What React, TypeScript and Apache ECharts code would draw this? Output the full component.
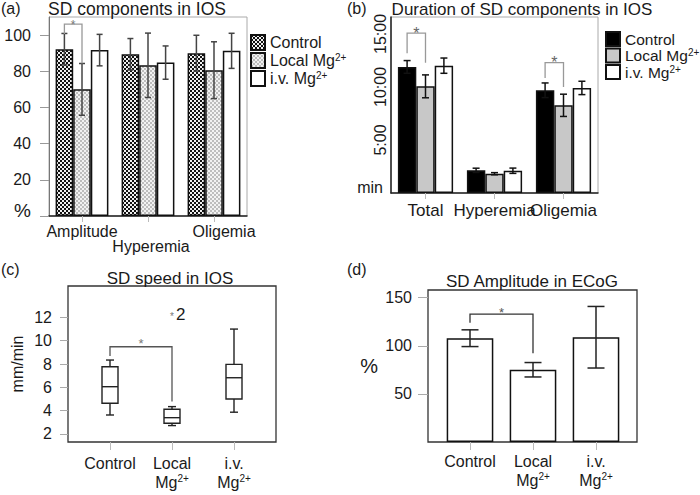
import React, { useEffect, useRef } from 'react';
import * as echarts from 'echarts';

// ---------- data ----------
const componentCats = ['Amplitude', 'Hyperemia', 'Oligemia'];
const compControl = [92.2, 89.4, 90.0];
const compControlErr = [8.7, 8.7, 9.9];
const compLocal = [70.0, 83.3, 80.6];
const compLocalErr = [14.3, 17.8, 15.7];
const compIv = [91.7, 84.8, 91.3];
const compIvErr = [8.7, 9.2, 9.7];
const compTicks = [0, 20, 40, 60, 80, 100];

const durationCats = ['Total', 'Hyperemia', 'Oligemia'];
const durControl = [11.89, 2.14, 9.69]; // minutes
const durControlErr = [0.6, 0.2, 0.69];
const durLocal = [10.06, 1.82, 8.27];
const durLocalErr = [1.08, 0.1, 1.05];
const durIv = [12.01, 2.1, 9.91];
const durIvErr = [0.72, 0.25, 0.63];
const durTicks = [0, 5, 10, 15];

const groupNames = ['Control', 'Local Mg2+', 'i.v. Mg2+'];

// boxplot: [min, Q1, median, Q3, max]
const speedBoxes = [
  [3.62, 4.63, 6.05, 7.77, 8.34],
  [2.71, 2.91, 3.39, 4.11, 4.34],
  [3.86, 5.0, 6.82, 7.97, 11.0],
];
const speedOutlier = [1, 12.25];
const speedTicks = [2, 4, 6, 8, 10, 12];

const ecogAmp = [107.9, 75.1, 108.9];
const ecogErr = [8.7, 7.5, 32.0];
const ecogTicks = [50, 100, 150];

// significance brackets: [cat1, bar1, cat2, bar2, yTop, yLeftEnd, yRightEnd]
const compBracket = [[0, 0, 0, 1, 106.1, 100.6, 84.3]];
const durBrackets = [
  [0, 0, 0, 1, 15.07, 13.18, 12.29],
  [2, 0, 2, 1, 12.29, 10.85, 10.0],
];
const speedBracket = [[0, 0, 1, 0, 9.48, 8.68, 4.77]];
const ecogBracket = [[0, 0, 1, 0, 133, 124, 92.3]];

// ---------- style ----------
const FONT = '"Liberation Sans", Arial, Helvetica, sans-serif';
const TXT = '#1a1a1a';

function checker(a: string, b: string, s: number) {
  const c = document.createElement('canvas');
  c.width = s * 2;
  c.height = s * 2;
  const g = c.getContext('2d')!;
  g.fillStyle = b;
  g.fillRect(0, 0, s * 2, s * 2);
  g.fillStyle = a;
  g.fillRect(0, 0, s, s);
  g.fillRect(s, s, s, s);
  return c;
}

function errSeries(xi: number, yi: number, means: number[], errs: number[], k: number, n: number, gap: number, capW: number, color: string) {
  return {
    type: 'custom',
    xAxisIndex: xi,
    yAxisIndex: yi,
    z: 6,
    silent: true,
    encode: { x: 0, y: [1, 2] },
    data: means.map((m, i) => [i, m - errs[i], m + errs[i]]),
    renderItem: (_p: any, api: any) => {
      const c = api.value(0);
      const lo = api.coord([c, api.value(1)]);
      const hi = api.coord([c, api.value(2)]);
      const band = api.size([1, 0])[0];
      const bw = (band * (1 - gap)) / n;
      const x = lo[0] + (k - (n - 1) / 2) * bw;
      const st = { stroke: color, lineWidth: 1.5, fill: null };
      return {
        type: 'group',
        children: [
          { type: 'line', shape: { x1: x, y1: lo[1], x2: x, y2: hi[1] }, style: st },
          { type: 'line', shape: { x1: x - capW / 2, y1: lo[1], x2: x + capW / 2, y2: lo[1] }, style: st },
          { type: 'line', shape: { x1: x - capW / 2, y1: hi[1], x2: x + capW / 2, y2: hi[1] }, style: st },
        ],
      };
    },
  };
}

function bracketSeries(xi: number, yi: number, items: number[][], n: number, gap: number, color: string, starColor: string, starSize: number, starDy: number) {
  return {
    type: 'custom',
    xAxisIndex: xi,
    yAxisIndex: yi,
    z: 7,
    silent: true,
    encode: { x: 0, y: 4 },
    data: items,
    renderItem: (_p: any, api: any) => {
      const band = api.size([1, 0])[0];
      const bw = n > 1 ? (band * (1 - gap)) / n : 0;
      const x1 = api.coord([api.value(0), api.value(4)])[0] + (api.value(1) - (n - 1) / 2) * bw;
      const x2 = api.coord([api.value(2), api.value(4)])[0] + (api.value(3) - (n - 1) / 2) * bw;
      const yTop = api.coord([api.value(0), api.value(4)])[1];
      const yL = api.coord([api.value(0), api.value(5)])[1];
      const yR = api.coord([api.value(0), api.value(6)])[1];
      return {
        type: 'group',
        children: [
          {
            type: 'polyline',
            shape: { points: [[x1, yL], [x1, yTop], [x2, yTop], [x2, yR]] },
            style: { stroke: color, lineWidth: 1.3, fill: null },
          },
          {
            type: 'text',
            x: (x1 + x2) / 2,
            y: yTop - starDy,
            style: { text: '*', fill: starColor, fontSize: starSize, fontFamily: FONT, align: 'center', verticalAlign: 'middle' },
          },
        ],
      };
    },
  };
}

function boxSeries(xi: number, yi: number, boxes: number[][], boxW: number, capW: number) {
  return {
    type: 'custom',
    xAxisIndex: xi,
    yAxisIndex: yi,
    z: 5,
    silent: true,
    encode: { x: 0, y: [1, 5] },
    data: boxes.map((b, i) => [i, ...b]),
    renderItem: (_p: any, api: any) => {
      const c = api.value(0);
      const p = [1, 2, 3, 4, 5].map((d) => api.coord([c, api.value(d)]));
      const x = p[0][0];
      const st = { stroke: '#222', lineWidth: 1.4, fill: null };
      return {
        type: 'group',
        children: [
          { type: 'line', shape: { x1: x, y1: p[0][1], x2: x, y2: p[1][1] }, style: st },
          { type: 'line', shape: { x1: x, y1: p[3][1], x2: x, y2: p[4][1] }, style: st },
          { type: 'line', shape: { x1: x - capW / 2, y1: p[0][1], x2: x + capW / 2, y2: p[0][1] }, style: st },
          { type: 'line', shape: { x1: x - capW / 2, y1: p[4][1], x2: x + capW / 2, y2: p[4][1] }, style: st },
          { type: 'rect', shape: { x: x - boxW / 2, y: p[3][1], width: boxW, height: p[1][1] - p[3][1] }, style: { stroke: '#222', lineWidth: 1.4, fill: '#fff' } },
          { type: 'line', shape: { x1: x - boxW / 2, y1: p[2][1], x2: x + boxW / 2, y2: p[2][1] }, style: st },
        ],
      };
    },
  };
}

const supRich = {
  n: { fontSize: 16, fontFamily: FONT, color: TXT, lineHeight: 19 },
  sup: { fontSize: 10, fontFamily: FONT, color: TXT, lineHeight: 10, verticalAlign: 'top' },
};

function twoLineCat(v: string) {
  if (v === 'Control') return '{n|Control}';
  const first = v.split(' ')[0];
  return `{n|${first}}\n{n|Mg}{sup|2+}`;
}

function legendFmt(name: string) {
  return name.endsWith('Mg2+') ? name.replace('Mg2+', 'Mg{sup|2+}') : name;
}

const gtext = (text: string, x: number, y: number, size: number, align = 'left') => ({
  type: 'text',
  x,
  y,
  silent: true,
  style: { text, fill: TXT, fontSize: size, fontFamily: FONT, align, verticalAlign: 'middle' },
});

export default function App() {
  const ref = useRef<HTMLDivElement>(null);
  useEffect(() => {
    document.body.style.margin = '0';
    const chart = echarts.init(ref.current!, null, { renderer: 'svg' });
    const ctrlPat = { image: checker('#111111', '#f0f0f0', 2), repeat: 'repeat' };
    const localPat = { image: checker('#bdbdbd', '#f2f2f2', 2), repeat: 'repeat' };

    const catLabel = { fontSize: 16, fontFamily: FONT, color: TXT };
    const grayTick = (len: number) => ({ show: true, length: len, alignWithLabel: true, lineStyle: { color: '#bbb' } });
    const legendText = (size: number) => ({
      fontSize: size,
      fontFamily: FONT,
      color: TXT,
      rich: { sup: { fontSize: 10, fontFamily: FONT, color: TXT, verticalAlign: 'top', lineHeight: 10 } },
    });
    const compRich = {
      c0: { fontSize: 16, fontFamily: FONT, color: TXT, lineHeight: 15 },
      c1: { fontSize: 16, fontFamily: FONT, color: TXT, lineHeight: 15, padding: [0, 0, 0, 6] },
      c2: { fontSize: 16, fontFamily: FONT, color: TXT, lineHeight: 15, padding: [0, 0, 0, 20] },
    };

    const option: any = {
      animation: false,
      backgroundColor: '#fff',
      textStyle: { fontFamily: FONT },
      grid: [
        { left: 49, top: 17, width: 198, height: 199, show: true, borderColor: '#aaa', borderWidth: 1 },
        { left: 391, top: 17, width: 207, height: 176, show: true, borderColor: '#aaa', borderWidth: 1 },
        { left: 68, top: 286, width: 208, height: 156, show: true, borderColor: '#333', borderWidth: 1.3 },
        { left: 79, top: 286, width: 186, height: 156 },
        { left: 428, top: 290, width: 209, height: 152, show: true, borderColor: '#333', borderWidth: 1.3 },
        { left: 438.5, top: 290, width: 189, height: 152 },
      ],
      xAxis: [
        {
          type: 'category', gridIndex: 0, data: componentCats,
          axisLine: { lineStyle: { color: '#222', width: 1.5 } },
          axisTick: grayTick(6),
          axisLabel: {
            ...catLabel, interval: 0, margin: 8, lineHeight: 15, rich: compRich,
            formatter: (v: string, i: number) => (i === 1 ? `\n{c1|${v}}` : `{c${i}|${v}}`),
          },
        },
        {
          type: 'category', gridIndex: 1, data: durationCats,
          axisLine: { lineStyle: { color: '#222', width: 1.5 } },
          axisTick: grayTick(6),
          axisLabel: { ...catLabel, fontSize: 17, interval: 0, margin: 9 },
        },
        { type: 'value', gridIndex: 2, show: false, min: 0, max: 1 },
        {
          type: 'category', gridIndex: 3, data: groupNames,
          axisLine: { show: false },
          axisTick: grayTick(8),
          axisLabel: { interval: 0, margin: 12, formatter: twoLineCat, rich: supRich },
        },
        { type: 'value', gridIndex: 4, show: false, min: 0, max: 1 },
        {
          type: 'category', gridIndex: 5, data: groupNames,
          axisLine: { show: false },
          axisTick: grayTick(8),
          axisLabel: { interval: 0, margin: 10, formatter: twoLineCat, rich: supRich },
        },
      ],
      yAxis: [
        {
          type: 'value', gridIndex: 0, min: 0, max: 110,
          splitLine: { show: false },
          axisLine: { show: true, lineStyle: { color: '#777', width: 1 } },
          axisTick: { show: true, length: 9, lineStyle: { color: '#999' }, customValues: compTicks },
          axisLabel: {
            customValues: compTicks, margin: 18, fontSize: 16, fontFamily: FONT, color: TXT,
            formatter: (v: number) => (v === 0 ? '{p|%}' : String(v)),
            rich: { p: { fontSize: 19, fontFamily: FONT, color: TXT, padding: [0, 0, 12, 0] } },
          },
        },
        {
          type: 'value', gridIndex: 1, min: 0, max: 16.6,
          splitLine: { show: false },
          axisLine: { show: true, lineStyle: { color: '#222', width: 1.5 } },
          axisTick: { show: false },
          axisLabel: {
            customValues: durTicks, rotate: 90, margin: 3, fontSize: 16, fontFamily: FONT, color: TXT,
            formatter: (v: number) => (v === 0 ? '' : `${v}:00`),
          },
        },
        { type: 'value', gridIndex: 2, show: false, min: 0, max: 1 },
        {
          type: 'value', gridIndex: 3, min: 1.3, max: 14.7, offset: 11,
          name: 'mm/min', nameLocation: 'middle', nameGap: 43,
          nameTextStyle: { fontSize: 16, fontFamily: FONT, color: TXT },
          splitLine: { show: false },
          axisLine: { show: false },
          axisTick: { show: true, length: 8, lineStyle: { color: '#aaa' }, customValues: speedTicks },
          axisLabel: { customValues: speedTicks, margin: 16, fontSize: 16, fontFamily: FONT, color: TXT },
        },
        { type: 'value', gridIndex: 4, show: false, min: 0, max: 1 },
        {
          type: 'value', gridIndex: 5, min: 0, max: 158, offset: 10.5,
          name: '%', nameLocation: 'middle', nameGap: 50, nameRotate: 0,
          nameTextStyle: { fontSize: 20, fontFamily: FONT, color: TXT },
          splitLine: { show: false },
          axisLine: { show: false },
          axisTick: { show: true, length: 10, lineStyle: { color: '#aaa' }, customValues: ecogTicks },
          axisLabel: { customValues: ecogTicks, margin: 16, fontSize: 16, fontFamily: FONT, color: TXT },
        },
      ],
      legend: [
        {
          orient: 'vertical', left: 245, top: 29, itemWidth: 14, itemHeight: 15, itemGap: 1, icon: 'rect',
          data: groupNames, formatter: legendFmt, textStyle: legendText(16), selectedMode: false,
        },
        {
          orient: 'vertical', left: 600, top: 26, itemWidth: 14, itemHeight: 14, itemGap: 0.5, icon: 'rect',
          data: [
            { name: groupNames[0], itemStyle: { color: '#000' } },
            { name: groupNames[1], itemStyle: { color: '#c8c8c8' } },
            { name: groupNames[2], itemStyle: { color: '#fff' } },
          ],
          formatter: legendFmt, textStyle: legendText(15.5), selectedMode: false,
        },
      ],
      graphic: [
        gtext('(a)', 1, 8, 16),
        gtext('SD components in IOS', 137, 8.5, 17.5, 'center'),
        gtext('(b)', 347, 8, 16),
        gtext('Duration of SD components in IOS', 522, 9, 17, 'center'),
        gtext('min', 383, 187, 16, 'right'),
        gtext('(c)', 1, 269, 16),
        gtext('SD speed in IOS', 170, 278, 17, 'center'),
        gtext('(d)', 347, 269, 16),
        gtext('SD Amplitude in ECoG', 532, 281, 17, 'center'),
      ],
      series: [
        // (a)
        { type: 'bar', name: groupNames[0], xAxisIndex: 0, yAxisIndex: 0, data: compControl, barGap: '0%', barCategoryGap: '20%', itemStyle: { color: ctrlPat, borderColor: '#111', borderWidth: 1.5 } },
        { type: 'bar', name: groupNames[1], xAxisIndex: 0, yAxisIndex: 0, data: compLocal, barGap: '0%', barCategoryGap: '20%', itemStyle: { color: localPat, borderColor: '#111', borderWidth: 1.5 } },
        { type: 'bar', name: groupNames[2], xAxisIndex: 0, yAxisIndex: 0, data: compIv, barGap: '0%', barCategoryGap: '20%', itemStyle: { color: '#fff', borderColor: '#111', borderWidth: 1.5 } },
        errSeries(0, 0, compControl, compControlErr, 0, 3, 0.2, 6, '#444'),
        errSeries(0, 0, compLocal, compLocalErr, 1, 3, 0.2, 6, '#444'),
        errSeries(0, 0, compIv, compIvErr, 2, 3, 0.2, 6, '#444'),
        bracketSeries(0, 0, compBracket, 3, 0.2, '#999', '#777', 12, -1),
        // (b)
        { type: 'bar', name: groupNames[0], xAxisIndex: 1, yAxisIndex: 1, data: durControl, barGap: '0%', barCategoryGap: '20%', itemStyle: { color: '#000', borderColor: '#111', borderWidth: 1.5 } },
        { type: 'bar', name: groupNames[1], xAxisIndex: 1, yAxisIndex: 1, data: durLocal, barGap: '0%', barCategoryGap: '20%', itemStyle: { color: '#c8c8c8', borderColor: '#111', borderWidth: 1.5 } },
        { type: 'bar', name: groupNames[2], xAxisIndex: 1, yAxisIndex: 1, data: durIv, barGap: '0%', barCategoryGap: '20%', itemStyle: { color: '#fff', borderColor: '#111', borderWidth: 1.5 } },
        errSeries(1, 1, durControl, durControlErr, 0, 3, 0.2, 7, '#111'),
        errSeries(1, 1, durLocal, durLocalErr, 1, 3, 0.2, 7, '#111'),
        errSeries(1, 1, durIv, durIvErr, 2, 3, 0.2, 7, '#111'),
        bracketSeries(1, 1, durBrackets, 3, 0.2, '#999', '#666', 16, 0),
        // (c)
        boxSeries(3, 3, speedBoxes, 16, 8),
        bracketSeries(3, 3, speedBracket, 1, 0, '#555', '#777', 13, 3),
        {
          type: 'custom', xAxisIndex: 3, yAxisIndex: 3, z: 6, silent: true,
          encode: { x: 0, y: 1 },
          data: [speedOutlier],
          renderItem: (_p: any, api: any) => {
            const pt = api.coord([api.value(0), api.value(1)]);
            return {
              type: 'group',
              children: [
                { type: 'text', x: pt[0], y: pt[1] + 2, style: { text: '*', fill: '#777', fontSize: 10, fontFamily: FONT, align: 'center', verticalAlign: 'middle' } },
                { type: 'text', x: pt[0] + 4, y: pt[1], style: { text: '2', fill: TXT, fontSize: 17, fontFamily: FONT, align: 'left', verticalAlign: 'middle' } },
              ],
            };
          },
        },
        // (d)
        { type: 'bar', name: 'ECoG amplitude', xAxisIndex: 5, yAxisIndex: 5, data: ecogAmp, barCategoryGap: '26%', itemStyle: { color: '#fff', borderColor: '#111', borderWidth: 1.5 } },
        errSeries(5, 5, ecogAmp, ecogErr, 0, 1, 0.26, 17, '#222'),
        bracketSeries(5, 5, ecogBracket, 1, 0, '#333', '#555', 13, 1.5),
      ],
    };
    chart.setOption(option);
    return () => chart.dispose();
  }, []);
  return <div ref={ref} style={{ position: 'absolute', left: 0, top: 0, width: 700, height: 495, background: '#fff' }} />;
}
